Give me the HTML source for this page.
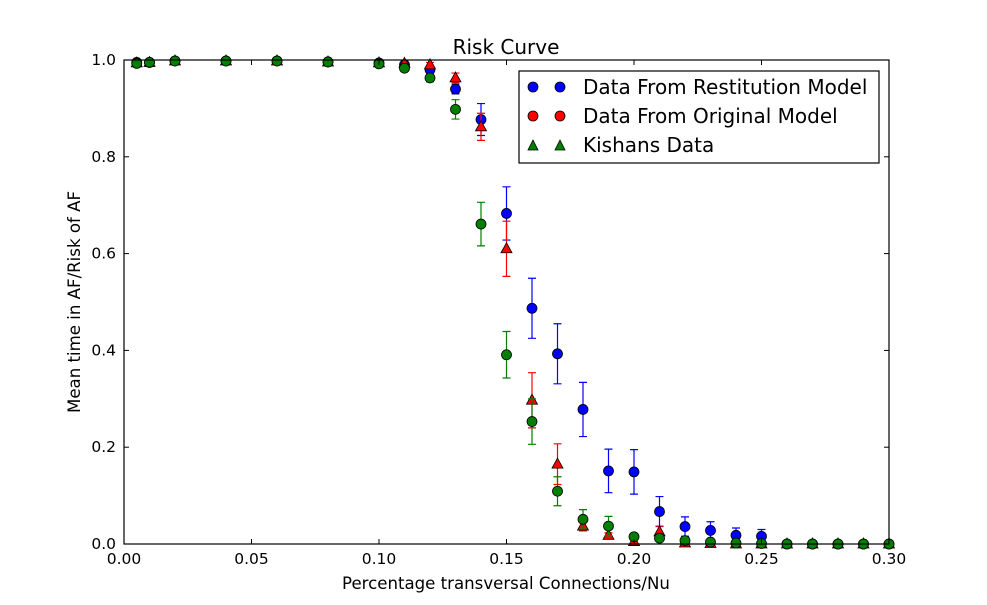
<!DOCTYPE html>
<html><head><meta charset="utf-8"><style>
html,body{margin:0;padding:0;background:#fff;}
svg{display:block;font-family:"DejaVu Sans","Liberation Sans",sans-serif;}
</style></head><body>
<svg id="chart" width="987" height="605" viewBox="0 0 987 605">
<rect width="987" height="605" fill="#fff"/>
<g id="marks"></g>
<rect x="124" y="60" width="765" height="484" fill="none" stroke="#000" stroke-width="1.2"/>
<g id="axes"></g>
<text x="506" y="54" font-size="20" text-anchor="middle">Risk Curve</text>
<text x="506" y="589" font-size="16.6" text-anchor="middle">Percentage transversal Connections/Nu</text>
<text transform="translate(80,302) rotate(-90)" font-size="16.6" text-anchor="middle">Mean time in AF/Risk of AF</text>
<g>
<rect x="519" y="71" width="360" height="92" fill="#fff" stroke="#000" stroke-width="1.2"/>
<g>
<circle cx="533" cy="87" r="5" fill="#0000ff" stroke="#000" stroke-width="0.8"/><circle cx="560" cy="87" r="5" fill="#0000ff" stroke="#000" stroke-width="0.8"/>
<text x="583" y="94" font-size="20">Data From Restitution Model</text></g>
<g>
<circle cx="533" cy="116" r="5" fill="#ff0000" stroke="#000" stroke-width="0.8"/><circle cx="560" cy="116" r="5" fill="#ff0000" stroke="#000" stroke-width="0.8"/>
<text x="583" y="123" font-size="20">Data From Original Model</text></g>
<g>
<polygon points="533,140 538,150 528,150" fill="#007f00" stroke="#000" stroke-width="0.8"/><polygon points="560,140 565,150 555,150" fill="#007f00" stroke="#000" stroke-width="0.8"/>
<text x="583" y="152" font-size="20">Kishans Data</text></g>
</g>
</svg>
<script>
const xVals=[0.005,0.01,0.02,0.04,0.06,0.08,0.10,0.11,0.12,0.13,0.14,0.15,0.16,0.17,0.18,0.19,0.20,0.21,0.22,0.23,0.24,0.25,0.26,0.27,0.28,0.29,0.30];
const blueVals=[0.995,0.995,0.998,0.998,0.998,0.996,0.994,0.99,0.98,0.94,0.877,0.683,0.487,0.393,0.278,0.151,0.149,0.067,0.036,0.028,0.018,0.016,0,0,0,0,0];
const blueErr=[0,0,0,0,0,0,0,0,0.005,0.01,0.033,0.055,0.062,0.062,0.056,0.045,0.046,0.031,0.02,0.018,0.015,0.014,0,0,0,0,0];
const redVals=[0.994,0.995,0.998,0.998,0.998,0.996,0.994,0.993,0.99,0.963,0.862,0.61,0.297,0.165,0.037,0.018,0.005,0.025,0.002,0.001,0,0,0,0,0,0,0];
const redErr=[0,0,0,0,0,0,0,0,0.005,0.01,0.028,0.057,0.057,0.042,0.01,0.005,0.003,0.012,0.002,0,0,0,0,0,0,0,0];
const greenVals=[0.993,0.995,0.998,0.998,0.998,0.996,0.992,0.983,0.963,0.898,0.661,0.391,0.253,0.109,0.051,0.037,0.015,0.012,0.007,0.004,0.002,0.001,0,0,0,0,0];
const greenErr=[0,0,0,0,0,0,0,0.004,0.008,0.02,0.045,0.048,0.047,0.03,0.02,0.02,0.006,0.005,0.003,0,0,0,0,0,0,0,0];
const xTicks=[0,0.05,0.10,0.15,0.20,0.25,0.30];
const xTickLabels=["0.00","0.05","0.10","0.15","0.20","0.25","0.30"];
const yTicks=[0,0.2,0.4,0.6,0.8,1.0];
const yTickLabels=["0.0","0.2","0.4","0.6","0.8","1.0"];
const X=v=>124+v/0.3*765, Y=v=>544-v*484;
const NS="http://www.w3.org/2000/svg";
function mk(t,a,p){const e=document.createElementNS(NS,t);for(const k in a)e.setAttribute(k,a[k]);p.appendChild(e);return e;}
const axes=document.getElementById('axes'), marks=document.getElementById('marks');
xTicks.forEach((t,i)=>{
 const x=X(t);
 const l=mk('line',{x1:x,x2:x,y1:544,y2:539,stroke:'#000'},axes);
 
 
 const l2=mk('line',{x1:x,x2:x,y1:60,y2:65,stroke:'#000'},axes);
 
 
 const tx=mk('text',{x:x,y:564,'font-size':15.5,'text-anchor':'middle'},axes);tx.textContent=xTickLabels[i];
 
 
});
yTicks.forEach((t,i)=>{
 const y=Y(t);
 const l=mk('line',{x1:124,x2:129,y1:y,y2:y,stroke:'#000'},axes);
 
 
 const l2=mk('line',{x1:884,x2:889,y1:y,y2:y,stroke:'#000'},axes);
 
 
 const tx=mk('text',{x:116,y:y+5,'font-size':15.5,'text-anchor':'end'},axes);tx.textContent=yTickLabels[i];
 
 
});
function series(vals,errs,color,shape,name){
 const g=mk('g',{},marks);
 
 
 vals.forEach((v,i)=>{
  const x=X(xVals[i]),e=errs[i];
  if(e>0){
   const eb=mk('path',{d:`M${x},${Y(v+e)}V${Y(v-e)}M${x-4},${Y(v+e)}H${x+4}M${x-4},${Y(v-e)}H${x+4}`,stroke:color,'stroke-width':1.2,fill:'none'},g);
   
   
  }
 });
 vals.forEach((v,i)=>{
  const x=X(xVals[i]),y=Y(v);
  let m;
  if(shape==='c') m=mk('circle',{cx:x,cy:y,r:5,fill:color,stroke:'#000','stroke-width':0.8},g);
  else m=mk('polygon',{points:`${x},${y-6} ${x+5.5},${y+4} ${x-5.5},${y+4}`,fill:color,stroke:'#000','stroke-width':0.8},g);
  
  
 });
}
series(blueVals,blueErr,'#0000ff','c','restitution');
series(redVals,redErr,'#ff0000','t','original');
series(greenVals,greenErr,'#007f00','c','kishans');
</script>
</body></html>
